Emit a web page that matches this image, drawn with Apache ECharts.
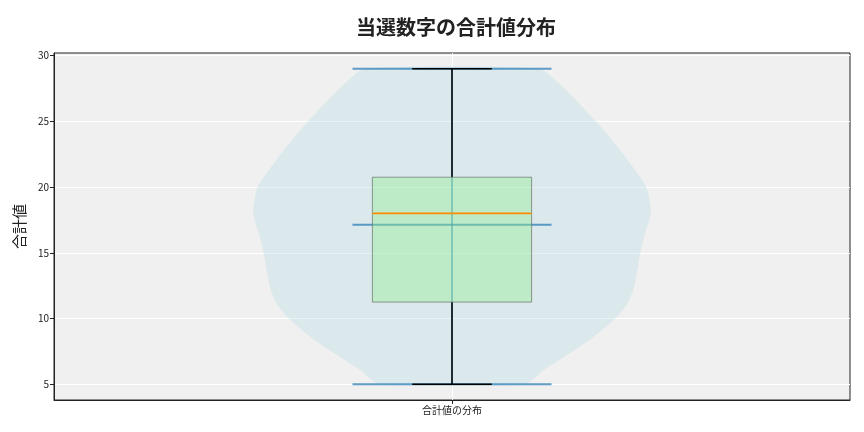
<!DOCTYPE html>
<html>
<head>
<meta charset="utf-8">
<script src="https://cdn.jsdelivr.net/npm/echarts@6/dist/echarts.min.js"></script>
<style>
html,body{margin:0;padding:0;background:#fff;}
#chart{width:864px;height:432px;}
</style>
</head>
<body>
<div id="chart"></div>
<script>
// ---- data ----
const categories = ['合計値の分布'];
const yTicks = [5, 10, 15, 20, 25, 30];
// violin outline: value (y) and relative density (1 = widest)
const violinY =       [5,    6.06, 7.33, 8.58, 9.98, 11.11, 12.37, 14.9,  16.16, 17.42, 18.28, 20.05, 22.58, 24.98, 27.63, 29];
const violinDensity = [0.37, 0.46, 0.59, 0.71, 0.82, 0.88,  0.915, 0.945, 0.965, 0.99,  1.0,   0.975, 0.857, 0.724, 0.556, 0.437];
// box stats: whisker low, Q1, median, Q3, whisker high
const boxStats = [5, 11.25, 18, 20.75, 29];
const meanValue = 17.14;

// ---- style constants ----
const POS = 1;
const VIOLIN_HALF = 0.25;
const BOX_HALF = 0.1;
const CAP_HALF = 0.05;
const VLINE_HALF = 0.125;
const FONT = '"Noto Sans CJK JP", "Noto Sans", sans-serif';

const chart = echarts.init(document.getElementById('chart'));

function violinRender(params, api) {
  const left = [], right = [];
  for (let i = 0; i < violinY.length; i++) {
    left.push(api.coord([POS - violinDensity[i] * VIOLIN_HALF, violinY[i]]));
  }
  for (let i = violinY.length - 1; i >= 0; i--) {
    right.push(api.coord([POS + violinDensity[i] * VIOLIN_HALF, violinY[i]]));
  }
  const pts = left.concat(right);
  const blue = 'rgba(31,119,180,0.7)';
  const lo = boxStats[0], hi = boxStats[4];
  function hline(y, half, color, w) {
    const a = api.coord([POS - half, y]), b = api.coord([POS + half, y]);
    return {type: 'line', shape: {x1: a[0], y1: a[1], x2: b[0], y2: b[1]}, style: {stroke: color, lineWidth: w}};
  }
  const c1 = api.coord([POS, lo]), c2 = api.coord([POS, hi]);
  return {
    type: 'group',
    children: [
      {type: 'polygon', shape: {points: pts, smooth: 0.2}, style: {fill: 'rgba(173,216,230,0.3)', stroke: 'none'}},
      {type: 'line', shape: {x1: c1[0], y1: c1[1], x2: c2[0], y2: c2[1]}, style: {stroke: blue, lineWidth: 1.5}},
      hline(lo, VLINE_HALF, blue, 2),
      hline(hi, VLINE_HALF, blue, 2),
      hline(meanValue, VLINE_HALF, blue, 2)
    ]
  };
}

function boxRender(params, api) {
  const [lo, q1, med, q3, hi] = boxStats;
  function seg(x1, y1, x2, y2, color, w) {
    const a = api.coord([x1, y1]), b = api.coord([x2, y2]);
    return {type: 'line', shape: {x1: a[0], y1: a[1], x2: b[0], y2: b[1]}, style: {stroke: color, lineWidth: w}};
  }
  const tl = api.coord([POS - BOX_HALF, q3]);
  const br = api.coord([POS + BOX_HALF, q1]);
  return {
    type: 'group',
    children: [
      seg(POS, q3, POS, hi, '#000', 1.5),
      seg(POS, q1, POS, lo, '#000', 1.5),
      seg(POS - CAP_HALF, hi, POS + CAP_HALF, hi, '#000', 1.5),
      seg(POS - CAP_HALF, lo, POS + CAP_HALF, lo, '#000', 1.5),
      {type: 'rect', shape: {x: tl[0], y: tl[1], width: br[0] - tl[0], height: br[1] - tl[1]},
       style: {fill: 'rgba(144,238,144,0.4)', stroke: 'rgba(110,120,110,0.75)', lineWidth: 1}},
      seg(POS - BOX_HALF, med, POS + BOX_HALF, med, '#ff8c00', 1.6)
    ]
  };
}

chart.setOption({
  animation: false,
  backgroundColor: '#ffffff',
  title: {
    text: '当選数字の合計値分布',
    left: 451, top: 12, textAlign: 'center',
    textStyle: {fontFamily: FONT, fontSize: 20, fontWeight: 'bold', color: '#222'}
  },
  grid: {
    left: 54, right: 14, top: 53, bottom: 32,
    show: true, backgroundColor: '#f0f0f0', borderColor: '#222', borderWidth: 1
  },
  xAxis: {
    type: 'value', min: 0.5, max: 1.5,
    axisLine: {show: true, lineStyle: {color: '#222'}},
    axisTick: {show: true, customValues: [POS], length: 4, lineStyle: {color: '#222'}},
    axisLabel: {customValues: [POS], formatter: () => categories[0], fontFamily: FONT, fontSize: 10, color: '#222', margin: 5},
    splitLine: {show: true, lineStyle: {color: '#ffffff', width: 1}}
  },
  yAxis: {
    type: 'value', min: 3.8, max: 30.2,
    name: '合計値', nameLocation: 'middle', nameGap: 26,
    nameTextStyle: {fontFamily: FONT, fontSize: 15, color: '#222'},
    axisLine: {show: true, lineStyle: {color: '#222'}},
    axisTick: {show: true, customValues: yTicks, length: 4, lineStyle: {color: '#222'}},
    axisLabel: {customValues: yTicks, fontFamily: FONT, fontSize: 10, color: '#222', margin: 5},
    splitLine: {show: true, lineStyle: {color: '#ffffff', width: 1}}
  },
  series: [
    {type: 'custom', renderItem: violinRender, data: [[POS, 0]], clip: true, silent: true},
    {type: 'custom', renderItem: boxRender, data: [[POS, 0]], clip: true, silent: true}
  ]
});
</script>
</body>
</html>
